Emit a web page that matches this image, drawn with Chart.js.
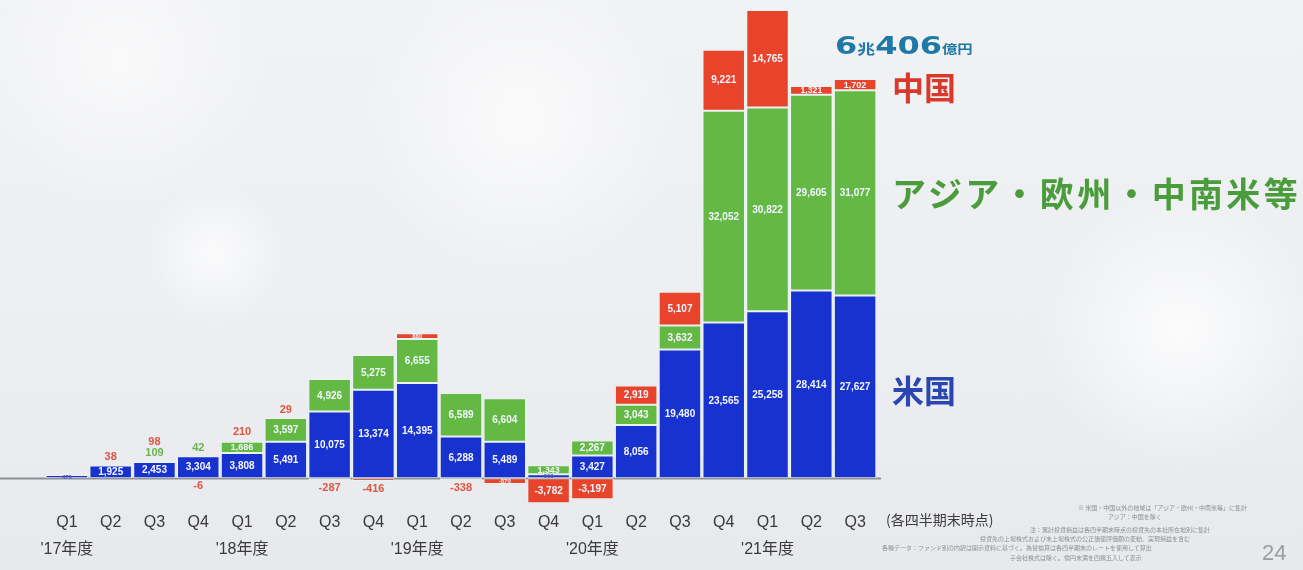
<!DOCTYPE html>
<html lang="ja">
<head>
<meta charset="utf-8">
<title>地域別 累計投資損益</title>
<script src="https://cdn.jsdelivr.net/npm/chart.js@4.4.1/dist/chart.umd.min.js"></script>
<style>
  html, body { margin: 0; padding: 0; }
  body {
    width: 1303px; height: 570px; overflow: hidden; position: relative;
    background:
      radial-gradient(circle at 215px 255px, rgba(255,255,255,0.75), rgba(255,255,255,0) 70px),
      radial-gradient(circle at 1180px 330px, rgba(255,255,255,0.8), rgba(255,255,255,0) 140px),
      radial-gradient(circle at 520px 120px, rgba(255,255,255,0.7), rgba(255,255,255,0) 160px),
      radial-gradient(circle at 120px 60px, rgba(255,255,255,0.6), rgba(255,255,255,0) 150px),
      linear-gradient(180deg, #f1f2f4 0%, #eceef1 60%, #e7e9ec 100%);
    font-family: "Noto Sans CJK JP", "Noto Sans", sans-serif;
  }
  canvas { position: absolute; left: 0; top: 0; }
  .lbl { position: absolute; white-space: nowrap; font-weight: 700; line-height: 1; }
  .note { position: absolute; white-space: nowrap; color: #8c8f94; font-size: 6px; line-height: 1; }
</style>
</head>
<body>
<canvas id="chart" width="1303" height="570"></canvas>

<div class="lbl" id="total" style="left:835px; top:33px; color:#1f79a6; transform-origin:left top; transform:scaleX(1.28);">
  <span style="font-family:'DejaVu Sans',sans-serif;font-size:25px;">6</span><span style="font-size:14px;">兆</span><span style="font-family:'DejaVu Sans',sans-serif;font-size:25px;">406</span><span style="font-size:12px;">億円</span>
</div>
<div class="lbl" style="left:892px; top:70px; font-size:32px; color:#d9392b;">中国</div>
<div class="lbl" style="left:892px; top:176px; font-size:34px; color:#4b9c3c; letter-spacing:3.3px;">アジア・欧州・中南米等</div>
<div class="lbl" style="left:892px; top:373px; font-size:32px; color:#2a46b2;">米国</div>

<div class="lbl" style="left:886px; top:512px; font-size:14px; font-weight:400; color:#3c3c3c;">(各四半期末時点)</div>

<div class="note" style="left:1078px; top:505px;">※ 米国・中国以外の地域は「アジア・欧州・中南米等」に集計</div>
<div class="note" style="left:1108px; top:514px;">アジア：中国を除く</div>
<div class="note" style="left:1030px; top:527px;">注：累計投資損益は各四半期末時点の投資先の本社所在地別に集計</div>
<div class="note" style="left:980px; top:536px;">投資先の上場株式および未上場株式の公正価値評価額の変動、実現損益を含む</div>
<div class="note" style="left:882px; top:545px;">各種データ：ファンド別の内訳は開示資料に基づく。為替換算は各四半期末のレートを使用して算出</div>
<div class="note" style="left:1010px; top:555px;">子会社株式は除く。億円未満を四捨五入して表示</div>
<div class="lbl" style="left:1262px; top:542px; font-size:22px; font-weight:400; color:#9a9da2; font-family:'Liberation Sans',sans-serif;">24</div>

<script>
// 四半期ラベルと年度
const quarters = ['Q1','Q2','Q3','Q4','Q1','Q2','Q3','Q4','Q1','Q2','Q3','Q4','Q1','Q2','Q3','Q4','Q1','Q2','Q3'];
const fiscalYears = ["'17年度",'','','',"'18年度",'','','',"'19年度",'','','',"'20年度",'','','',"'21年度",'',''];

// 地域別の値（億円）
const usValues = [470, 1925, 2453, 3304, 3808, 5491, 10075, 13374, 14395, 6288, 5489, 600, 3427, 8056, 19480, 23565, 25258, 28414, 27627];
const asiaEuLatamValues = [null, null, 109, 42, 1686, 3597, 4926, 5275, 6655, 6589, 6604, 1343, 2267, 3043, 3632, 32052, 30822, 29605, 31077];
const chinaValues = [null, 38, 98, -6, 210, 29, -287, -416, 880, -338, -870, -3782, -3197, 2919, 5107, 9221, 14765, 1321, 1702];

const BLUE = '#1832d0';
const GREEN = '#63b943';
const RED = '#e8432b';
const fmt = v => v.toLocaleString('en-US');

// 区間内の数値、細い区間は上下に色付きで表示
const segmentLabels = {
  id: 'segmentLabels',
  afterDatasetsDraw(chart) {
    const ctx = chart.ctx;
    const n = chart.data.labels.length;
    const outsideColors = ['#4a5aa8', '#6fb050', '#e0553f'];
    ctx.save();
    ctx.textAlign = 'center';
    ctx.textBaseline = 'middle';
    for (let i = 0; i < n; i++) {
      let posTop = Infinity, negBottom = -Infinity;
      const items = [];
      chart.data.datasets.forEach((ds, d) => {
        const v = ds.data[i];
        if (v == null) return;
        const el = chart.getDatasetMeta(d).data[i];
        const p = el.getProps(['x', 'y', 'base'], true);
        const top = Math.min(p.y, p.base), bottom = Math.max(p.y, p.base);
        if (v >= 0) posTop = Math.min(posTop, top); else negBottom = Math.max(negBottom, bottom);
        items.push({ d, v, x: p.x, top, bottom, h: bottom - top });
      });
      let upCount = 0;
      items.forEach(it => {
        const inside = it.h >= 8 || it.d === 0 || Math.abs(it.v) >= 500;
        if (inside) {
          let size = it.h >= 12 ? 10 : Math.max(6, Math.min(9, it.h));
          ctx.font = `600 ${size}px "Liberation Sans", "DejaVu Sans", sans-serif`;
          ctx.fillStyle = it.h >= 5 ? '#f4f6ff' : outsideColors[it.d];
          ctx.fillText(fmt(it.v), it.x, (it.top + it.bottom) / 2 + 0.5);
        } else {
          ctx.font = '600 11px "Liberation Sans", "DejaVu Sans", sans-serif';
          ctx.fillStyle = outsideColors[it.d];
          if (it.v >= 0) {
            ctx.fillText(fmt(it.v), it.x, posTop - 8 - upCount * 11);
            upCount++;
          } else {
            ctx.fillText(fmt(it.v), it.x, negBottom + 8);
          }
        }
      });
    }
    ctx.restore();
  }
};

// ゼロの基準線
const baseline = {
  id: 'baseline',
  beforeDatasetsDraw(chart) {
    const y = Math.round(chart.scales.y.getPixelForValue(0));
    const ctx = chart.ctx;
    ctx.save();
    ctx.strokeStyle = '#8d9094';
    ctx.lineWidth = 2;
    ctx.beginPath();
    ctx.moveTo(0, y + 0.5);
    ctx.lineTo(chart.chartArea.right + 4, y + 0.5);
    ctx.stroke();
    ctx.restore();
  }
};

new Chart(document.getElementById('chart'), {
  type: 'bar',
  data: {
    labels: quarters.map((q, i) => [q, fiscalYears[i]]),
    datasets: [
      { label: '米国', data: usValues, backgroundColor: BLUE },
      { label: 'アジア・欧州・中南米等', data: asiaEuLatamValues, backgroundColor: GREEN },
      { label: '中国', data: chinaValues, backgroundColor: RED }
    ].map(ds => Object.assign(ds, {
      borderColor: 'rgba(235,245,240,0.85)',
      borderWidth: 1,
      borderSkipped: false,
      categoryPercentage: 1.0,
      barPercentage: 0.97
    }))
  },
  options: {
    responsive: false,
    animation: false,
    devicePixelRatio: 1,
    layout: { padding: { left: 45, right: 426, top: 2, bottom: 3 } },
    plugins: { legend: { display: false }, tooltip: { enabled: false } },
    scales: {
      x: {
        stacked: true,
        grid: { display: false, drawTicks: false },
        border: { display: false },
        ticks: {
          color: '#3a3a3a',
          autoSkip: false,
          maxRotation: 0,
          padding: 4,
          font: { size: 16, family: '"Liberation Sans", "Noto Sans CJK JP", sans-serif', lineHeight: 1.7 }
        }
      },
      y: { stacked: true, display: false, min: -4005, max: 72058 }
    }
  },
  plugins: [baseline, segmentLabels]
});
</script>
</body>
</html>
